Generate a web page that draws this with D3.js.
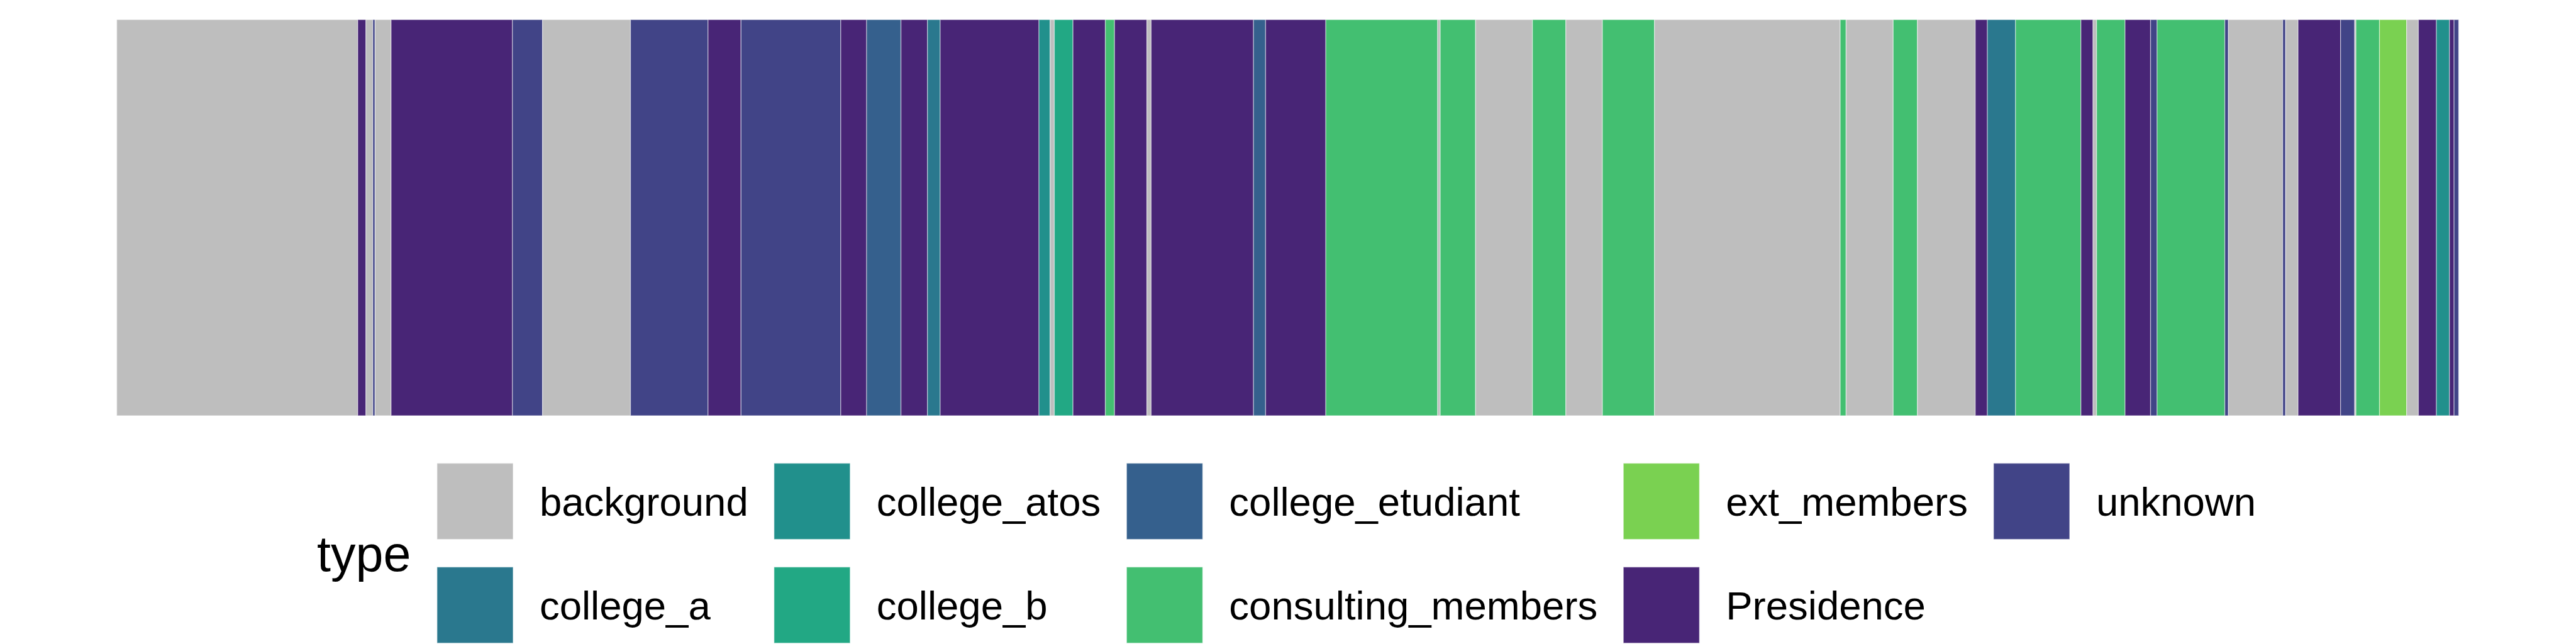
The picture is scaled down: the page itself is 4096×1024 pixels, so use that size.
<!DOCTYPE html>
<html>
<head>
<meta charset="utf-8">
<script src="https://cdn.jsdelivr.net/npm/d3@7"></script>
<style>
  html, body { margin: 0; padding: 0; background: #ffffff; }
  svg { display: block; }
  text { font-family: "Liberation Sans", Arial, Helvetica, sans-serif; fill: #000; }
</style>
</head>
<body>
<svg id="chart" width="4096" height="1024"></svg>
<script>
// ---- data ----
const categories = ["background", "college_a", "college_atos", "college_b", "college_etudiant",
                    "consulting_members", "ext_members", "Presidence", "unknown"];
const categoryColors = ["#BEBEBE", "#2A788E", "#21908C", "#22A884", "#35608D",
                        "#43BF71", "#7AD151", "#482576", "#414487"];

const segmentTypes = [
  "background", "Presidence", "background", "unknown", "background", "Presidence", "unknown",
  "background", "unknown", "Presidence", "unknown", "Presidence", "college_etudiant", "Presidence",
  "college_a", "Presidence", "college_atos", "background", "college_b", "Presidence",
  "consulting_members", "Presidence", "background", "Presidence", "college_etudiant", "Presidence",
  "consulting_members", "background", "consulting_members", "background", "consulting_members",
  "background", "consulting_members", "background", "consulting_members", "background",
  "consulting_members", "background", "Presidence", "college_a", "consulting_members",
  "Presidence", "background", "consulting_members", "Presidence", "unknown", "consulting_members",
  "unknown", "background", "unknown", "background", "Presidence", "unknown", "background",
  "consulting_members", "ext_members", "background", "Presidence", "college_atos", "Presidence",
  "unknown"
];
const segmentStarts = [
  0, 737, 762, 783, 790, 839, 1210, 1302, 1571, 1808, 1909, 2214, 2293, 2398, 2479, 2518,
  2820, 2854, 2867, 2924, 3023, 3051, 3150, 3163, 3476, 3513, 3697, 4039, 4047, 4155, 4329,
  4431, 4543, 4702, 5270, 5288, 5432, 5506, 5683, 5720, 5806, 6006, 6043, 6054, 6141, 6219,
  6239, 6446, 6457, 6623, 6632, 6670, 6800, 6843, 6847, 6919, 7002, 7038, 7093, 7133, 7147
];
const timelineEnd = 7161;
const legendTitle = "type";

// ---- layout ----
const W = 4096, H = 1024;
const plot = { left: 185.6, right: 3909.4, top: 31.2, bottom: 661 };
const legendFont = 63.5, titleFont = 79;
const keySize = 121, rowGap = 44, keyLabelGap = 42, colGap = 41;
const legendTop = 736.6, keysLeft = 694.9, titleX = 504;

const svg = d3.select("#chart");

const segments = segmentTypes.map((t, i) => ({
  type: t,
  start: segmentStarts[i],
  end: i + 1 < segmentStarts.length ? segmentStarts[i + 1] : timelineEnd
}));

const x = d3.scaleLinear().domain([0, timelineEnd]).range([plot.left, plot.right]);
const y = d3.scaleBand().domain(["all"]).range([plot.top, plot.bottom]).padding(0);
const color = d3.scaleOrdinal().domain(categories).range(categoryColors);

svg.append("g")
  .selectAll("rect")
  .data(segments)
  .join("rect")
  .attr("x", d => x(d.start))
  .attr("width", d => x(d.end) - x(d.start))
  .attr("y", y("all"))
  .attr("height", y.bandwidth())
  .attr("fill", d => color(d.type))
  .attr("stroke", "rgba(255,255,255,0.45)")
  .attr("stroke-width", 1.4);

// ---- legend ----
const lg = svg.append("g");
const nRows = 2;
const nCols = Math.ceil(categories.length / nRows);

lg.append("text")
  .attr("x", titleX)
  .attr("y", legendTop + (nRows * keySize + (nRows - 1) * rowGap) / 2 + 0.36 * titleFont)
  .attr("font-size", titleFont)
  .text(legendTitle);

// measure label widths
const measure = svg.append("text").attr("font-size", legendFont).attr("visibility", "hidden");
const widths = categories.map(c => { measure.text(c); return measure.node().getComputedTextLength(); });
measure.remove();

let colX = keysLeft;
for (let c = 0; c < nCols; c++) {
  const items = categories.slice(c * nRows, c * nRows + nRows);
  const maxW = d3.max(items.map((_, r) => widths[c * nRows + r]));
  items.forEach((cat, r) => {
    const ky = legendTop + r * (keySize + rowGap);
    lg.append("rect")
      .attr("x", colX).attr("y", ky)
      .attr("width", keySize).attr("height", keySize)
      .attr("fill", color(cat))
      .attr("stroke", "rgba(255,255,255,0.45)")
      .attr("stroke-width", 1.4);
    lg.append("text")
      .attr("x", colX + keySize + keyLabelGap)
      .attr("y", ky + keySize / 2 + 0.36 * legendFont)
      .attr("font-size", legendFont)
      .text(cat);
  });
  colX += keySize + keyLabelGap + maxW + colGap;
}
</script>
</body>
</html>
